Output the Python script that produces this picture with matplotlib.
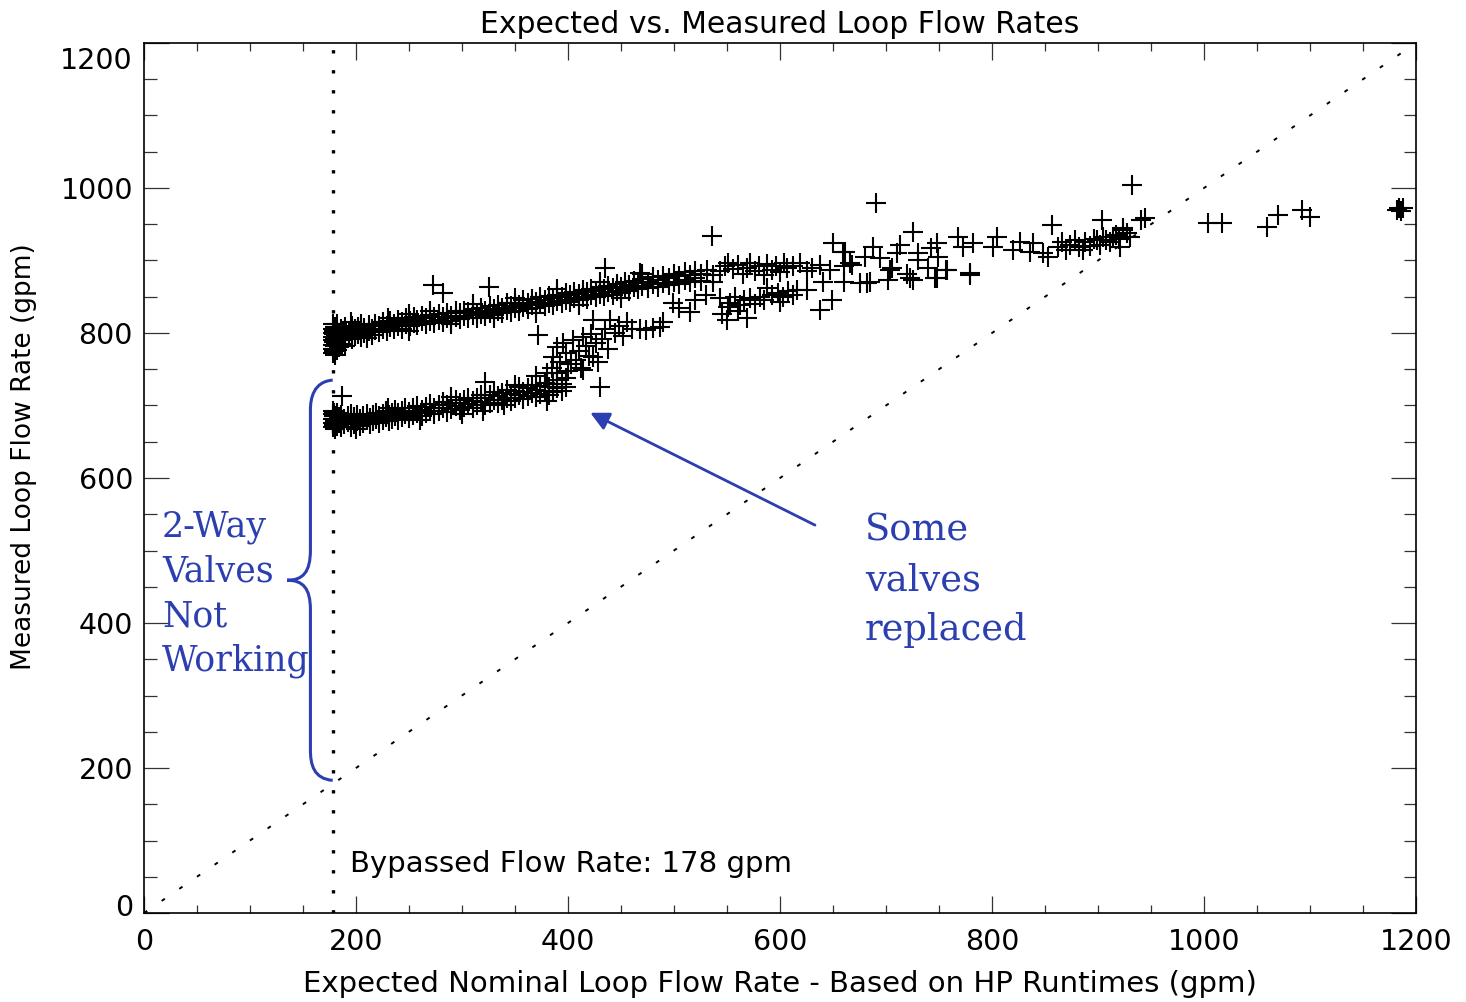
import matplotlib
matplotlib.use("Agg")
import matplotlib.pyplot as plt
from matplotlib.path import Path
from matplotlib.patches import PathPatch
from matplotlib.ticker import MultipleLocator
from matplotlib.transforms import ScaledTranslation

# ---------------- data ----------------
upper_band = [
    (178,772),(178,778),(178,784),(178,790),(178,795),(178,800),(178,806),(178,812),
    (179,775),(179,788),(179,798),(179,803),(180,770),(180,782),(180,792),(180,808),
    (181,786),(181,797),(181,801),(182,776),(182,790),(182,805),(182,813),
    (184,780),(184,794),(184,800),(186,785),(186,796),(186,806),(188,790),(188,799),(188,803),
    (190,782),(190,794),(190,808),(193,797),(193,803),(196,792),(196,800),(196,810),
    (199,796),(199,805),(202,799),(202,808),(205,794),(205,803),(205,812),(208,800),(208,807),
    (212,803),(212,811),(215,797),(215,806),(218,804),(218,812),(222,801),(222,809),
    (225,806),(225,815),(229,803),(229,810),(232,808),(232,816),(236,805),(236,813),
    (240,810),(240,818),(243,806),(243,815),(247,812),(247,820),(251,809),(251,817),
    (255,814),(255,822),(258,811),(258,818),(262,816),(262,823),(266,812),(266,820),
    (270,817),(270,825),(273,866),(282,855),(274,814),(274,822),(278,818),(278,826),
    (282,815),(282,822),(286,820),(286,828),(290,817),(290,824),(294,822),(294,830),
    (298,819),(298,827),(302,823),(302,831),(306,820),(306,829),(310,825),(310,833),
    (314,821),(314,828),(318,826),(318,835),(322,823),(322,831),(325,864),(326,828),(326,837),
    (330,825),(330,833),(334,830),(334,839),(338,827),(338,835),(342,832),(342,841),
    (346,829),(346,837),(350,834),(350,842),(354,831),(354,839),(358,836),(358,845),
    (362,833),(362,841),(366,838),(366,847),(370,835),(370,843),(372,797),(374,840),(374,849),
    (378,837),(378,846),(382,842),(382,851),(386,839),(386,848),(390,844),(390,853),
    (394,841),(394,850),(398,846),(398,855),(402,843),(402,852),(406,848),(406,857),
    (410,845),(410,854),(414,850),(414,859),(418,847),(418,856),(422,852),(422,861),
    (426,849),(426,858),(430,854),(430,863),(434,851),(434,860),(435,889),(438,856),(438,865),
    (442,853),(442,862),(446,858),(446,868),(450,855),(450,864),(454,860),(454,870),
    (458,858),(458,866),(462,863),(462,872),(466,860),(466,869),(470,865),(470,875),
    (475,862),(475,871),(480,867),(480,877),(485,864),(485,873),(490,869),(490,879),
    (495,866),(495,876),(500,871),(500,881),(505,868),(505,878),(510,873),(510,884),
    (515,870),(515,880),(520,876),(520,886),(525,872),(525,882),(531,887),(536,934),
    (537,870),(537,880),
    (195,815),(210,793),(230,820),(250,803),(250,826),(270,830),(290,812),(310,840),
    (330,820),(350,848),(370,828),(390,860),(410,838),(430,870),(450,848),(470,882),
]

lower_band = [
    (178,670),(178,676),(178,682),(178,688),(178,693),(179,673),(179,685),(179,690),
    (180,668),(180,679),(180,686),(182,672),(182,681),(182,689),(184,676),(184,684),
    (186,670),(186,680),(186,687),(187,713),(189,674),(189,682),(192,677),(192,686),
    (195,671),(195,680),(195,688),(198,675),(198,684),(201,678),(201,687),(204,672),(204,681),
    (207,676),(207,685),(210,680),(210,688),(213,674),(213,683),(216,678),(216,687),
    (219,682),(219,690),(222,676),(222,685),(225,680),(225,688),(228,684),(228,692),
    (231,678),(231,687),(234,682),(234,690),(237,686),(237,694),(240,680),(240,689),
    (243,684),(243,692),(246,688),(246,697),(250,683),(250,691),(254,687),(254,696),
    (258,690),(258,699),(262,685),(262,694),(266,689),(266,698),(270,693),(270,702),
    (274,688),(274,697),(278,692),(278,701),(282,696),(282,705),(286,691),(286,700),
    (290,695),(290,704),(294,699),(294,708),(298,694),(298,703),(302,698),(302,707),
    (306,702),(306,711),(310,697),(310,706),(314,701),(314,711),(318,705),(318,715),
    (322,700),(322,710),(322,732),(326,704),(326,714),(330,708),(330,718),(334,703),(334,713),
    (338,707),(338,717),(342,711),(342,722),(346,706),(346,716),(350,710),(350,720),
    (354,714),(354,725),(358,709),(358,719),(362,713),(362,724),(366,717),(366,728),
    (370,712),(370,722),(374,716),(374,727),(378,720),(378,731),(382,715),(382,726),
    (386,719),(386,730),(390,724),(390,735),(394,720),(394,730),(398,726),(398,738),
    (200,668),(230,696),(260,680),(290,712),(300,688),(320,692),(340,700),(350,728),
    (370,740),(380,706),(390,745),
]

rising_branch = [
    (380,745),(385,752),(386,767),(390,781),(392,760),(395,786),(398,772),(400,748),
    (403,757),(405,790),(408,763),(410,775),(412,752),(414,794),(414,749),(417,782),
    (420,768),(422,798),(424,767),(424,818),(426,786),(428,760),(430,726),(432,792),
    (435,805),(438,778),(440,818),(444,800),(448,810),(452,796),(456,815),(460,806),
    (468,806),(474,804),(480,807),(487,808),(490,815),
]

middle_cluster = [
    (468,883),(499,841),(505,835),(515,829),(520,845),(530,852),(543,848),(545,826),
    (550,818),(551,836),(553,842),(558,850),(560,830),(562,838),(566,845),(569,821),
    (572,848),(576,840),(581,850),(585,846),(588,862),(592,852),(598,855),(600,843),
    (603,849),(608,858),(612,853),(616,859),(625,859),
    (543,885),(548,892),(551,897),(556,888),(560,894),(565,882),(569,890),(572,897),
    (576,885),(580,893),(585,880),(588,895),(592,887),(596,892),(600,884),(604,897),
    (607,889),(612,893),(619,897),(625,885),(630,889),(638,894),(641,870),(650,924),
    (649,846),(638,832),(659,912),(666,897),(660,870),(647,887),
]

high_flow = [
    (661,912),(668,894),(680,905),(688,919),(682,869),(685,870),(694,903),(691,979),
    (702,873),(706,890),(710,910),(713,921),(723,876),(725,939),(730,901),(730,910),
    (742,917),(748,924),(749,905),(748,876),(758,887),(768,932),(773,919),(779,883),
    (782,924),(801,919),(805,932),(820,914),(826,926),(836,912),(839,924),(848,910),
    (853,905),(857,949),(862,918),(866,925),(870,915),(874,922),(878,928),(882,918),
    (886,914),(888,926),(892,920),(896,930),(899,928),(902,922),(905,933),(908,928),
    (911,925),(914,932),(917,935),(920,930),(921,919),(924,942),(927,938),(930,932),
    (904,956),(924,945),(932,1004),(941,956),(944,958),
    (660,893),(675,869),(704,887),(720,882),(725,873),(740,890),(746,876),(757,887),(779,880),
    (1004,952),(1017,952),(1059,946),(1070,963),(1092,970),(1100,960),
    (1182,970),(1184,973),(1186,968),(1188,972),
]

bypass_flow = 178
x_ticks = [0, 200, 400, 600, 800, 1000, 1200]
y_ticks = [0, 200, 400, 600, 800, 1000, 1200]

# ---------------- figure ----------------
W, H, DPI = 1466, 1002, 100
fig = plt.figure(figsize=(W / DPI, H / DPI), dpi=DPI)
ax = fig.add_axes([144 / W, 1 - 913 / H, (1416 - 144) / W, (913 - 43) / H])
ax.set_xlim(0, 1200)
ax.set_ylim(0, 1200)

blue = "#2b3fb0"
font = "DejaVu Sans"

# reference lines
ax.plot([bypass_flow, bypass_flow], [0, 1200], color="black", lw=2.4,
        linestyle=(0, (1, 5)), zorder=2)
ax.plot([0, 1200], [0, 1200], color="black", lw=1.4,
        linestyle=(0, (2, 9)), zorder=2)

for grp in (upper_band, lower_band, rising_branch, middle_cluster, high_flow):
    xs = [p[0] for p in grp]
    ys = [p[1] for p in grp]
    ax.plot(xs, ys, linestyle="none", marker="+", ms=14, mew=1.5,
            color="black", zorder=3)

# axes styling
for s in ax.spines.values():
    s.set_linewidth(1.2)
    s.set_color("black")
ax.set_xticks(x_ticks)
ax.set_yticks(y_ticks)
ax.set_xticklabels([str(v) for v in x_ticks])
ax.set_yticklabels([str(v) for v in y_ticks])
ax.xaxis.set_minor_locator(MultipleLocator(50))
ax.yaxis.set_minor_locator(MultipleLocator(50))
ax.tick_params(axis="x", which="major", direction="in", length=12, width=0.9,
               top=True, bottom=True, pad=11, labelsize=20.5, color="#333333")
ax.tick_params(axis="x", which="minor", direction="in", length=6, width=0.9,
               top=True, bottom=True, color="#333333")
ax.tick_params(axis="y", which="major", direction="in", length=18, width=0.9,
               left=True, right=True, pad=8, labelsize=20.5, color="#333333")
ax.tick_params(axis="y", which="minor", direction="in", length=9, width=0.9,
               left=True, right=True, color="#333333")
for lab in ax.get_xticklabels() + ax.get_yticklabels():
    lab.set_fontfamily(font)

for lab in ax.get_yticklabels():
    if lab.get_text() == "1200":
        lab.set_transform(lab.get_transform() + ScaledTranslation(0, -11 / 72, fig.dpi_scale_trans))
    elif lab.get_text() == "0":
        lab.set_transform(lab.get_transform() + ScaledTranslation(0, 6 / 72, fig.dpi_scale_trans))

ax.set_title("Expected vs. Measured Loop Flow Rates", fontsize=21.5,
             fontfamily=font, pad=7)
ax.set_xlabel("Expected Nominal Loop Flow Rate - Based on HP Runtimes (gpm)",
              fontsize=21, fontfamily=font, va="center")
ax.xaxis.set_label_coords(0.5, -0.082)
ax.set_ylabel("Measured Loop Flow Rate (gpm)", fontsize=19, fontfamily=font,
              va="center")
ax.yaxis.set_label_coords(-0.094, 0.525)

ax.text(194, 56, "Bypassed Flow Rate: 178 gpm", fontsize=21, fontfamily=font,
        va="baseline", ha="left", zorder=4)

# annotations
ax.text(17, 440, "2-Way\nValves\nNot\nWorking", color=blue, fontsize=25,
        fontfamily="DejaVu Serif", ha="left", va="center", linespacing=1.4, zorder=4)
ax.text(680, 459, "Some\nvalves\nreplaced", color=blue, fontsize=26.5,
        fontfamily="DejaVu Serif", ha="left", va="center", linespacing=1.48, zorder=4)

brace = Path(
    [(178, 735), (160, 733), (157, 710), (157, 694),
     (157, 501), (157, 470), (150, 459), (135, 459),
     (150, 459), (157, 448), (157, 418),
     (157, 225), (157, 205), (160, 185), (178, 183)],
    [Path.MOVETO, Path.CURVE4, Path.CURVE4, Path.CURVE4,
     Path.LINETO, Path.CURVE4, Path.CURVE4, Path.CURVE4,
     Path.CURVE4, Path.CURVE4, Path.CURVE4,
     Path.LINETO, Path.CURVE4, Path.CURVE4, Path.CURVE4])
ax.add_patch(PathPatch(brace, facecolor="none", edgecolor=blue, lw=2.2,
                       clip_on=False, zorder=4))

ax.annotate("", xy=(421, 690), xytext=(633, 535),
            arrowprops=dict(arrowstyle="-|>", color=blue, lw=2,
                            mutation_scale=28, shrinkA=0, shrinkB=0), zorder=4)

fig.savefig("out.png", dpi=DPI)
